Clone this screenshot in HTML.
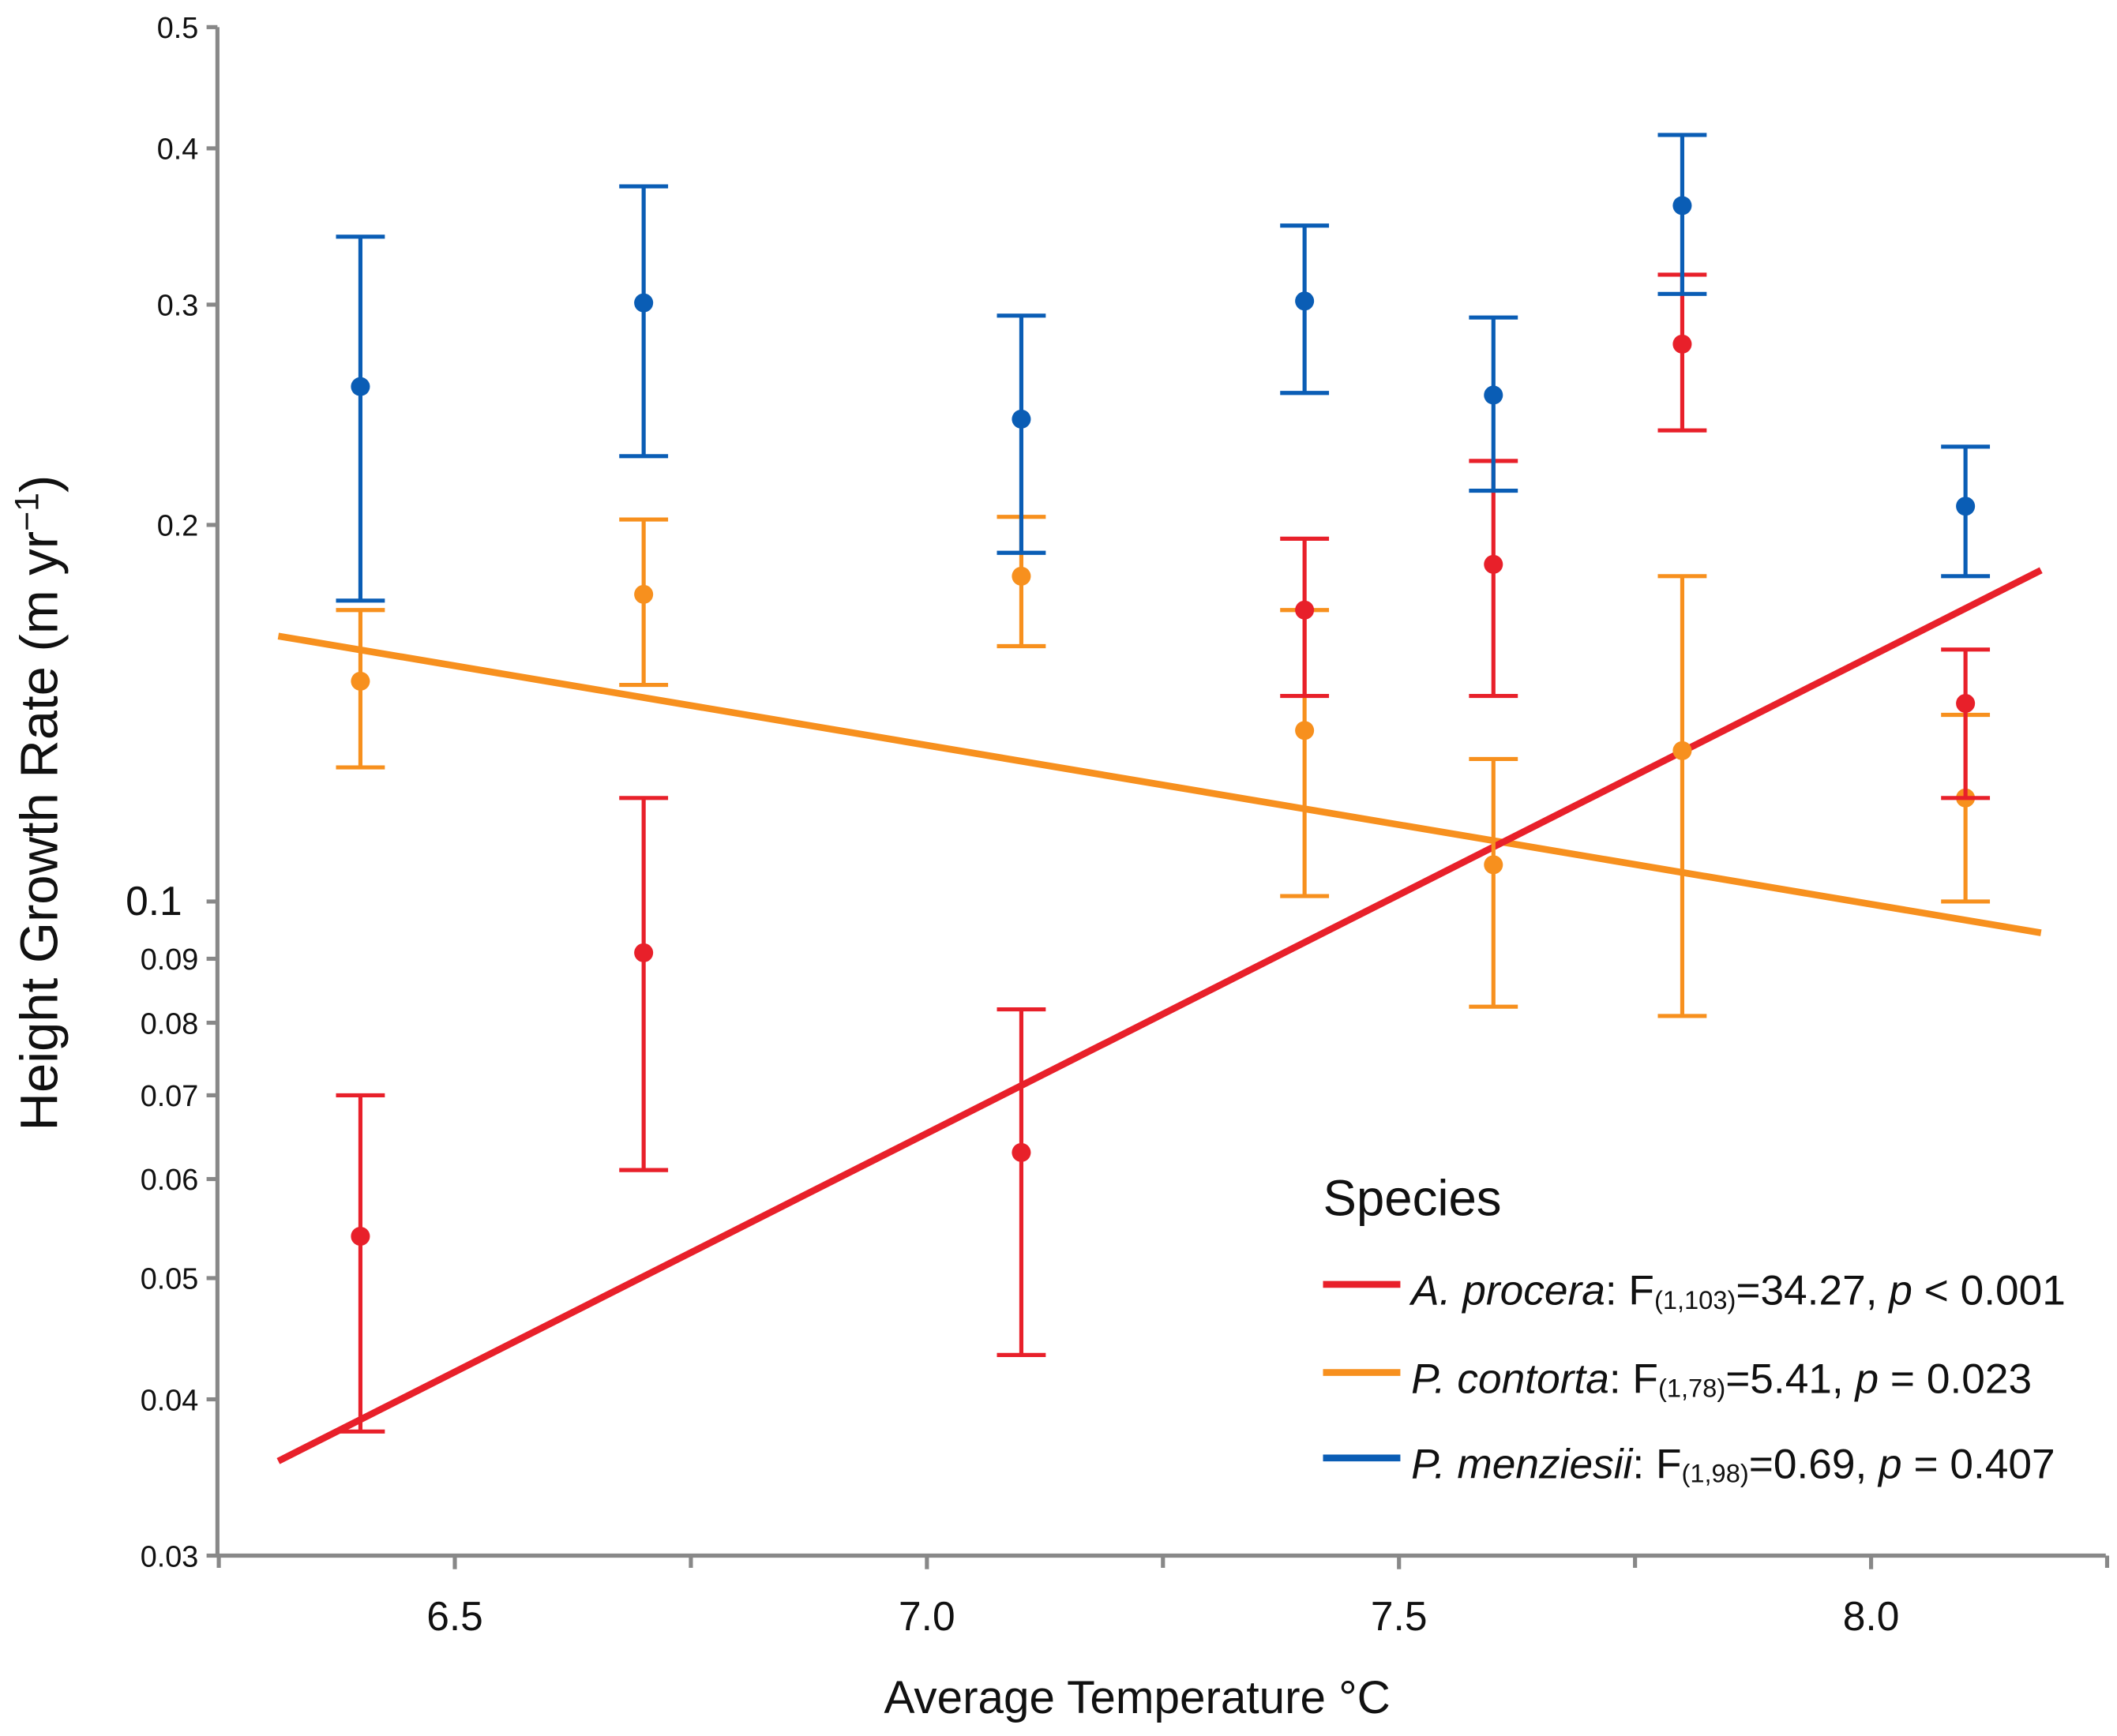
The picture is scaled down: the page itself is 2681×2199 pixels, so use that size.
<!DOCTYPE html>
<html><head><meta charset="utf-8"><style>
html,body{margin:0;padding:0;background:#fff}
svg{display:block}
text{font-family:"Liberation Sans",sans-serif;fill:#111}
</style></head><body>
<svg id="chart" width="2681" height="2199" viewBox="0 0 1560 1280" xmlns="http://www.w3.org/2000/svg">
<g id="axes"></g>
<g id="marks"></g>
<text transform="translate(42,592) rotate(-90)" text-anchor="middle" font-size="39">Height Growth Rate (m yr<tspan baseline-shift="super" font-size="25">−1</tspan>)</text>
<text x="838" y="1263" text-anchor="middle" font-size="34">Average Temperature °C</text>
<g>
<text x="975" y="896" font-size="37">Species</text>
<line x1="975" y1="947" x2="1032" y2="947" stroke="#e8202a" stroke-width="5"/>
<text x="1040" y="962" font-size="31"><tspan font-style="italic">A. procera</tspan>: F<tspan font-size="19" dy="3">(1,103)</tspan><tspan dy="-3">=34.27, </tspan><tspan font-style="italic">p</tspan> &lt; 0.001</text>
<line x1="975" y1="1012" x2="1032" y2="1012" stroke="#f7901e" stroke-width="5"/>
<text x="1040" y="1027" font-size="31"><tspan font-style="italic">P. contorta</tspan>: F<tspan font-size="19" dy="3">(1,78)</tspan><tspan dy="-3">=5.41, </tspan><tspan font-style="italic">p</tspan> = 0.023</text>
<line x1="975" y1="1075" x2="1032" y2="1075" stroke="#0a5db5" stroke-width="5"/>
<text x="1040" y="1090" font-size="31"><tspan font-style="italic">P. menziesii</tspan>: F<tspan font-size="19" dy="3">(1,98)</tspan><tspan dy="-3">=0.69, </tspan><tspan font-style="italic">p</tspan> = 0.407</text>
</g>
</svg>
<script>
const temps = [6.4, 6.7, 7.1, 7.4, 7.6, 7.8, 8.1];
const blueMean = [0.258, 0.301, 0.243, 0.302, 0.254, 0.360, 0.207];
const blueHi = [0.340, 0.373, 0.294, 0.347, 0.293, 0.410, 0.231];
const blueLo = [0.174, 0.227, 0.190, 0.255, 0.213, 0.306, 0.182];
const orangeMean = [0.150, 0.176, 0.182, 0.137, 0.107, 0.132, 0.121];
const orangeHi = [0.171, 0.202, 0.203, 0.171, 0.130, 0.182, 0.141];
const orangeLo = [0.128, 0.149, 0.160, 0.101, 0.0824, 0.081, 0.100];
const redMean = [0.054, 0.091, 0.063, 0.171, 0.186, 0.279, 0.144];
const redHi = [0.070, 0.121, 0.082, 0.195, 0.225, 0.317, 0.159];
const redLo = [0.0377, 0.061, 0.0434, 0.146, 0.146, 0.238, 0.121];
const trendT = [6.313, 8.18];
const redTrend = [0.0357, 0.184];
const orangeTrend = [0.163, 0.0944];
const yTicks = [0.5, 0.4, 0.3, 0.2, 0.1, 0.09, 0.08, 0.07, 0.06, 0.05, 0.04, 0.03];
const yLabels = ["0.5","0.4","0.3","0.2","0.1","0.09","0.08","0.07","0.06","0.05","0.04","0.03"];
const xTicks = [6.5, 7.0, 7.5, 8.0];
const xLabels = ["6.5","7.0","7.5","8.0"];
const xMinor = [6.25, 6.75, 7.25, 7.75, 8.25];

const L=160,R=1552,T=20,B=1147;
const xs = t => 335 + (t-6.5)*696;
const ys = v => T + (Math.log10(0.5) - Math.log10(v)) / (Math.log10(0.5)-Math.log10(0.03)) * (B-T);
const NS="http://www.w3.org/2000/svg";
function mk(parent, tag, attrs){const e=document.createElementNS(NS,tag);for(const k in attrs)e.setAttribute(k,attrs[k]);parent.appendChild(e);return e;}
const ax=document.getElementById('axes'), mg=document.getElementById('marks');
let e;
e=mk(ax,'line',{x1:L,y1:T,x2:L,y2:B,stroke:'#888','stroke-width':3});


e=mk(ax,'line',{x1:L,y1:B,x2:R,y2:B,stroke:'#888','stroke-width':3});


yTicks.forEach((v,i)=>{
  const y=ys(v);
  e=mk(ax,'line',{x1:L-8,y1:y,x2:L,y2:y,stroke:'#888','stroke-width':3});
  
  
  const big = v===0.1;
  e=mk(ax,'text',{x:big?L-26:L-14,y:y+(big?10:8),'text-anchor':'end','font-size':big?30:22});
  e.textContent=yLabels[i];
  
  
});
xTicks.forEach((t,i)=>{
  const x=xs(t);
  e=mk(ax,'line',{x1:x,y1:B,x2:x,y2:B+10,stroke:'#888','stroke-width':3});
  
  
  e=mk(ax,'text',{x:x,y:B+55,'text-anchor':'middle','font-size':30});
  e.textContent=xLabels[i];
  
  
});
xMinor.forEach(t=>{
  const x=xs(t);
  e=mk(ax,'line',{x1:x,y1:B,x2:x,y2:B+9,stroke:'#888','stroke-width':3});
  
  
});
function trend(vals,color,name){
  e=mk(mg,'line',{x1:xs(trendT[0]),y1:ys(vals[0]),x2:xs(trendT[1]),y2:ys(vals[1]),stroke:color,'stroke-width':5});
  
  
}
function series(mean,hi,lo,color,name){
  temps.forEach((t,i)=>{
    const x=xs(t);
    const g=mk(mg,'g',{});
    
    
    e=mk(g,'line',{x1:x,y1:ys(hi[i]),x2:x,y2:ys(lo[i]),stroke:color,'stroke-width':3});
    
    
    [hi[i],lo[i]].forEach(v=>{
      e=mk(g,'line',{x1:x-18,y1:ys(v),x2:x+18,y2:ys(v),stroke:color,'stroke-width':3});
      
      
    });
    e=mk(g,'circle',{cx:x,cy:ys(mean[i]),r:7,fill:color});
    
    
  });
}
trend(orangeTrend,'#f7901e','contorta-trend-line');
trend(redTrend,'#e8202a','procera-trend-line');
series(orangeMean,orangeHi,orangeLo,'#f7901e','contorta');
series(redMean,redHi,redLo,'#e8202a','procera');
series(blueMean,blueHi,blueLo,'#0a5db5','menziesii');
</script>
</body></html>
